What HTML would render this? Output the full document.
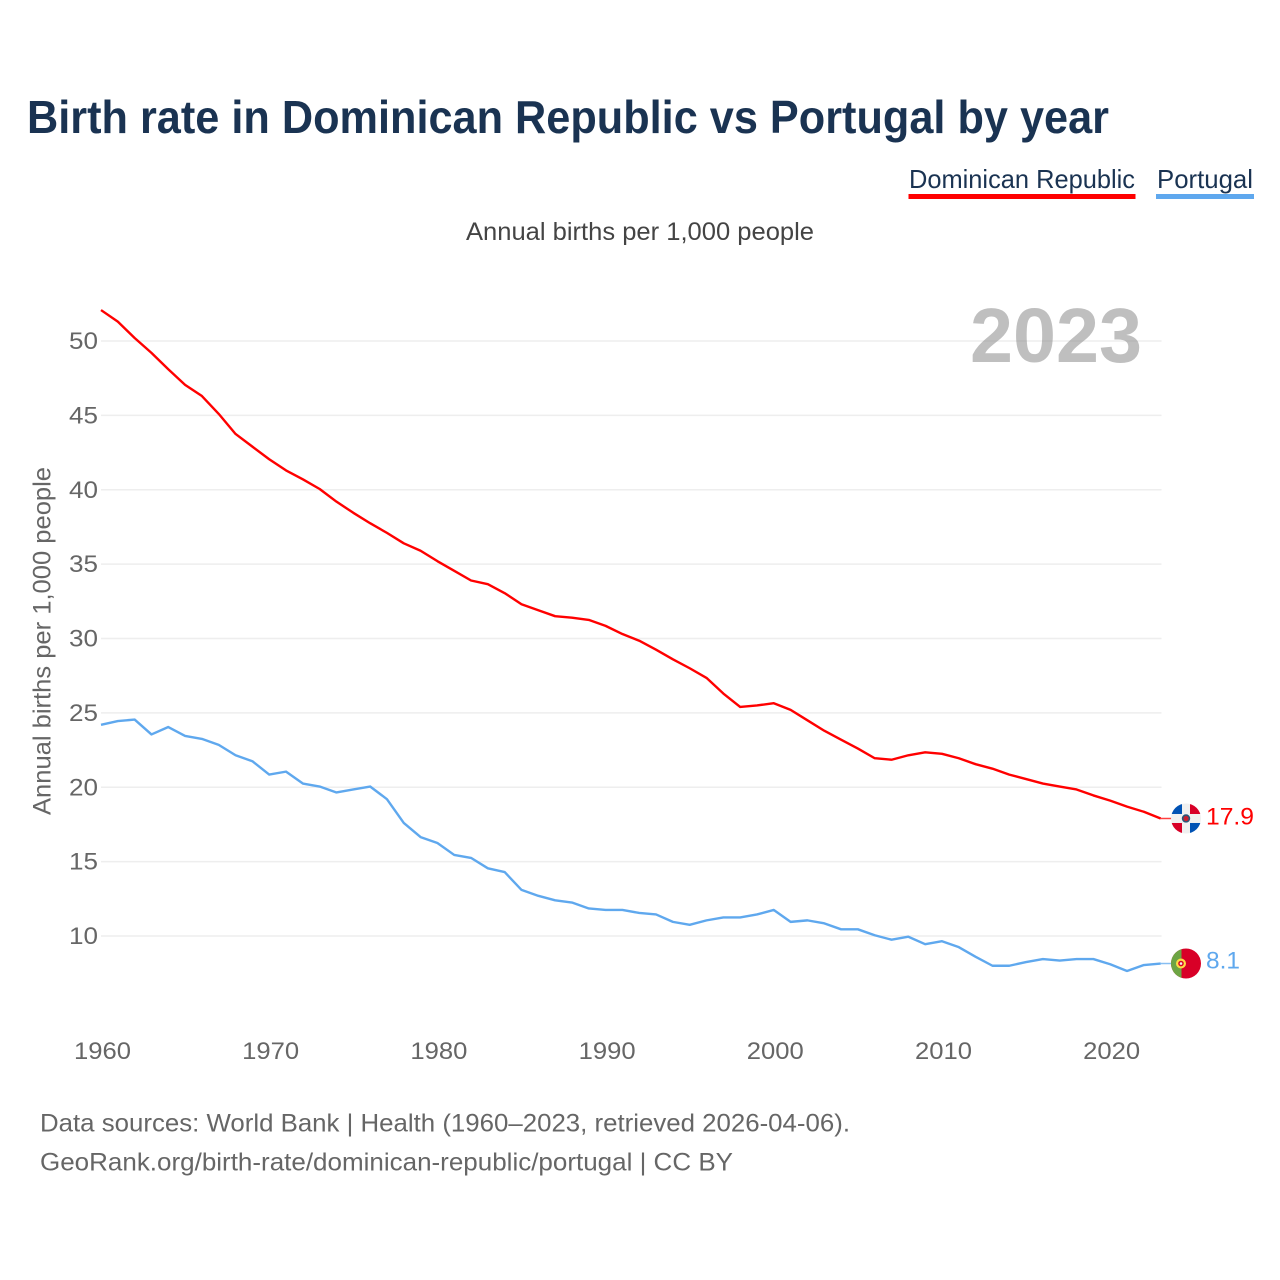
<!DOCTYPE html>
<html lang="en">
<head>
<meta charset="utf-8">
<title>Birth rate in Dominican Republic vs Portugal by year</title>
<style>
html,body{margin:0;padding:0;background:#fff;}
svg{display:block;font-family:"Liberation Sans",sans-serif;}
</style>
</head>
<body>
<svg id="chart" xmlns="http://www.w3.org/2000/svg" width="1280" height="1280" viewBox="0 0 1280 1280">
  <defs>
    <clipPath id="flag-clip"><circle cx="0" cy="0" r="15"/></clipPath>
  </defs>
  <rect width="1280" height="1280" fill="#fff"/>
  <text x="27" y="133" font-size="46" font-weight="700" fill="#1a3352" textLength="1082" lengthAdjust="spacingAndGlyphs">Birth rate in Dominican Republic vs Portugal by year</text>

  <g>
    <g>
      <text x="909" y="188" font-size="26" fill="#1a3352" textLength="226" lengthAdjust="spacingAndGlyphs">Dominican Republic</text>
      <rect x="908.5" y="194" width="227" height="5" fill="#ff0000"/>
    </g>
    <g>
      <text x="1157" y="188" font-size="26" fill="#1a3352" textLength="96" lengthAdjust="spacingAndGlyphs">Portugal</text>
      <rect x="1156" y="194" width="98" height="5" fill="#5fa8ee"/>
    </g>
  </g>

  <text x="466" y="240" font-size="25" fill="#444" textLength="348" lengthAdjust="spacingAndGlyphs">Annual births per 1,000 people</text>
  <text transform="translate(50.5,815) rotate(-90)" x="0" y="0" font-size="25" fill="#666" textLength="348" lengthAdjust="spacingAndGlyphs">Annual births per 1,000 people</text>

  <g id="grid"></g>
  <g id="yticks"></g>
  <g id="xticks"></g>

  <text x="970" y="362" font-size="77" font-weight="700" fill="#808080" fill-opacity="0.5" textLength="172" lengthAdjust="spacingAndGlyphs">2023</text>

  <g id="series"></g>

  <g id="flag-dr">
    <g clip-path="url(#flag-clip)">
      <rect x="-15" y="-15" width="30" height="30" fill="#f0f0f0"/>
      <rect x="-15" y="-15" width="11" height="10.5" fill="#0052b4"/>
      <rect x="4" y="-15" width="11" height="10.5" fill="#d80027"/>
      <rect x="-15" y="4.5" width="11" height="10.5" fill="#d80027"/>
      <rect x="4" y="4.5" width="11" height="10.5" fill="#0052b4"/>
      <circle cx="0" cy="0" r="4.2" fill="#2a5578"/>
      <circle cx="0" cy="0" r="2.6" fill="#c8202f"/>
    </g>
  </g>
  <g id="flag-pt">
    <g clip-path="url(#flag-clip)">
      <rect x="-15" y="-15" width="30" height="30" fill="#d80027"/>
      <rect x="-15" y="-15" width="10.5" height="30" fill="#6da544"/>
      <circle cx="-5" cy="0" r="5" fill="#ffda44"/>
      <circle cx="-5" cy="0" r="2.8" fill="#d80027"/>
      <circle cx="-5" cy="0" r="1.3" fill="#f0f0f0"/>
    </g>
  </g>
  <text id="value-dr" x="1206" font-size="24.5" fill="#ff0000" textLength="48" lengthAdjust="spacingAndGlyphs"></text>
  <text id="value-pt" x="1206" font-size="24.5" fill="#5fa8ee" textLength="34" lengthAdjust="spacingAndGlyphs"></text>

  <g>
    <text x="40" y="1131.5" font-size="25" fill="#666" textLength="810" lengthAdjust="spacingAndGlyphs">Data sources: World Bank | Health (1960–2023, retrieved 2026-04-06).</text>
    <text x="40" y="1170.5" font-size="25" fill="#666" textLength="693" lengthAdjust="spacingAndGlyphs">GeoRank.org/birth-rate/dominican-republic/portugal | CC BY</text>
  </g>
</svg>
<script>
const startYear = 1960;
const dominicanRepublic = [52.08,51.3,50.2,49.2,48.1,47.05,46.3,45.1,43.75,42.9,
  42.05,41.3,40.7,40.05,39.2,38.45,37.75,37.1,36.4,35.9,
  35.2,34.55,33.9,33.65,33.05,32.3,31.9,31.5,31.4,31.25,
  30.85,30.3,29.85,29.25,28.6,28.0,27.35,26.3,25.4,25.5,
  25.65,25.2,24.5,23.8,23.2,22.6,21.95,21.85,22.15,22.35,
  22.25,21.95,21.55,21.25,20.85,20.55,20.25,20.05,19.85,19.45,
  19.1,18.7,18.35,17.9];
const portugal = [24.2,24.45,24.55,23.55,24.05,23.45,23.25,22.85,22.15,21.75,
  20.85,21.05,20.25,20.05,19.65,19.85,20.05,19.2,17.6,16.65,
  16.25,15.45,15.25,14.55,14.3,13.1,12.7,12.4,12.25,11.85,
  11.75,11.75,11.55,11.45,10.95,10.75,11.05,11.25,11.25,11.45,
  11.75,10.95,11.05,10.85,10.45,10.45,10.05,9.75,9.95,9.45,
  9.65,9.25,8.6,8.0,8.0,8.25,8.45,8.35,8.45,8.45,
  8.1,7.65,8.05,8.15];
const yTickValues = [10,15,20,25,30,35,40,45,50];
const xTickValues = [1960,1970,1980,1990,2000,2010,2020];
const endLabelDR = "17.9";
const endLabelPT = "8.1";

const NS = "http://www.w3.org/2000/svg";
function xScale(year){ return 101 + (year - 1960) * 16.82; }
function yScale(v){ return 936 - (v - 10) * 14.875; }
function make(tag, attrs, parent){
  const el = document.createElementNS(NS, tag);
  for (const k in attrs) el.setAttribute(k, attrs[k]);
  parent.appendChild(el);
  return el;
}
const grid = document.getElementById("grid");
const yticks = document.getElementById("yticks");
const xticks = document.getElementById("xticks");
const seriesG = document.getElementById("series");

yTickValues.forEach(function(v){
  const line = make("line", {x1:101, x2:1161.5, y1:yScale(v), y2:yScale(v), stroke:"#eeeeee", "stroke-width":1.5}, grid);
  
  
  const t = make("text", {x:98, y:yScale(v)+8, "text-anchor":"end", "font-size":24.5, fill:"#666", textLength:29, lengthAdjust:"spacingAndGlyphs"}, yticks);
  
  
  t.textContent = String(v);
});
xTickValues.forEach(function(y){
  const t = make("text", {x:xScale(y)+1.5, y:1059, "text-anchor":"middle", "font-size":24.5, fill:"#666", textLength:57, lengthAdjust:"spacingAndGlyphs"}, xticks);
  
  
  t.textContent = String(y);
});
function linePoints(vals){
  return vals.map(function(v,i){ return xScale(startYear+i).toFixed(2)+","+yScale(v).toFixed(2); }).join(" ");
}
const lineDR = make("polyline", {points:linePoints(dominicanRepublic), fill:"none", stroke:"#ff0000", "stroke-width":2.4, "stroke-linejoin":"round"}, seriesG);


const linePT = make("polyline", {points:linePoints(portugal), fill:"none", stroke:"#5fa8ee", "stroke-width":2.4, "stroke-linejoin":"round"}, seriesG);



const lastYear = startYear + dominicanRepublic.length - 1;
const lastDR = yScale(dominicanRepublic[dominicanRepublic.length-1]);
const lastPT = yScale(portugal[portugal.length-1]);
const connectorDR = make("line", {x1:xScale(lastYear), x2:1172, y1:lastDR, y2:lastDR, stroke:"#ff0000", "stroke-width":1.5, "stroke-opacity":0.75}, seriesG);


const connectorPT = make("line", {x1:xScale(lastYear), x2:1172, y1:lastPT, y2:lastPT, stroke:"#5fa8ee", "stroke-width":1.5, "stroke-opacity":0.75}, seriesG);



document.getElementById("flag-dr").setAttribute("transform", "translate(1186,"+lastDR+")");
document.getElementById("flag-pt").setAttribute("transform", "translate(1186,"+lastPT+")");
const valDR = document.getElementById("value-dr");
valDR.setAttribute("y", lastDR + 6);
valDR.textContent = endLabelDR;
const valPT = document.getElementById("value-pt");
valPT.setAttribute("y", lastPT + 5);
valPT.textContent = endLabelPT;
</script>
</body>
</html>
